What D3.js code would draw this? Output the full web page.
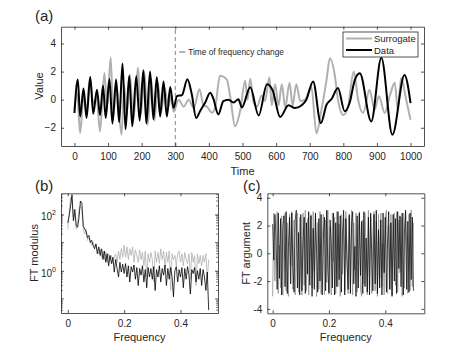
<!DOCTYPE html>
<html>
<head>
<meta charset="utf-8">
<script src="https://cdn.jsdelivr.net/npm/d3@7"></script>
<style>
body { margin: 0; background: #fff; }
svg { display: block; font-family: "Liberation Sans", Arial, Helvetica, sans-serif; }
text { fill: #262626; }
</style>
</head>
<body>
<svg id="chart"></svg>
<script>
const dataSeries = [[0,-0.95],[10,1.43],[17,-1.2],[27,0.8],[36,-1.3],[47,1.62],[56,-1.0],[67,0.71],[76,-1.1],[85,1.0],
  [93,-1.3],[104,1.48],[113,-1.7],[124,1.43],[133,-1.6],[143,2.57],[152,-2.1],[163,1.71],[172,-1.9],[184,1.67],
  [194,-1.5],[205,2.1],[214,-1.7],[225,2.0],[235,-1.4],[245,1.6],[255,-1.2],[265,1.3],[275,-1.2],[285,0.9],
  [295,-0.6],[305,0.25],[320,0.33],[336,1.45],[349,0.4],[362,-1.3],[374,-0.8],[389,-0.2],[404,0.5],[413,0.1],
  [428,-1.05],[443,-0.1],[458,0.0],[473,-0.2],[488,0.03],[498,-0.55],[523,0.88],[548,-1.12],[573,1.1],[590,0.65],
  [612,-1.24],[637,-0.4],[656,-0.6],[676,-0.4],[690,0.0],[710,1.3],[733,-1.67],[750,-0.36],[765,0.05],[784,0.83],
  [804,-0.83],[819,-0.2],[834,1.4],[849,1.88],[883,-1.55],[913,2.98],[946,-2.5],[982,1.76],[1000,-0.24]];

const surrogateSeries = [[0,-0.7],[8,0.5],[17,-2.38],[27,0.3],[36,-0.8],[46,1.57],[56,-0.3],[66,0.2],[76,-2.26],[89,1.9],
  [97,-0.5],[108,3.0],[115,-1.2],[125,1.0],[140,-2.5],[148,1.0],[156,-1.0],[165,1.8],[175,-1.5],[189,2.3],
  [198,-1.0],[208,2.0],[218,-1.8],[228,1.5],[238,-1.5],[248,1.2],[258,-0.9],[268,0.8],[280,-0.5],[287,0.3],
  [295,-0.86],[310,0.0],[325,-0.5],[340,0.0],[355,-0.6],[372,0.74],[384,-0.4],[394,-0.5],[409,-0.93],[419,-0.5],
  [433,1.7],[453,1.45],[463,0.3],[478,-1.9],[493,-0.8],[508,1.35],[515,0.0],[523,1.5],[533,-0.2],[543,-0.5],
  [557,0.3],[567,-0.1],[580,1.6],[587,-0.4],[597,1.1],[607,-0.4],[617,1.1],[627,-0.55],[640,1.2],[649,-0.4],
  [660,1.1],[672,-0.1],[686,0.0],[705,0.9],[720,-2.4],[735,-0.7],[750,1.4],[760,2.95],[775,1.67],[784,0.0],
  [800,-1.1],[814,-0.5],[831,2.0],[844,0.0],[859,-0.95],[878,0.7],[893,-0.7],[906,0.25],[923,-0.95],[938,0.25],
  [953,1.2],[962,-0.7],[972,1.55],[987,0.0],[1000,-1.43]];

const changeTime = 300;
const timeTicks = [0, 100, 200, 300, 400, 500, 600, 700, 800, 900, 1000];
const valueTicks = [-2, 0, 2, 4];

// (b) FT modulus, one value every 0.005 in frequency
const modulusStep = 0.005;
const dataModulus = [50, 90, 200, 500, 60, 150, 40, 35, 80, 300,
  250, 40, 30, 25, 15, 18, 10, 12, 8, 6,
  9, 4, 7, 3.5, 6, 2.5, 5, 2, 4, 1.5,
  3.5, 1.8, 3, 0.9, 2.5, 1.2, 0.6, 2, 0.9, 1.7,
  0.8, 1.8, 0.6, 1.5, 0.4, 1.4, 0.9, 1.6, 0.5, 1.3,
  0.3, 1.2, 0.7, 1.5, 0.4, 1.1, 0.25, 1.3, 0.6, 1.2,
  0.5, 1.4, 0.2, 1.1, 0.6, 1.5, 0.4, 1.2, 0.7, 1.6,
  0.3, 1.2, 0.5, 1.3, 0.6, 0.12, 1.0, 1.4, 0.4, 1.1,
  0.6, 1.3, 0.25, 1.2, 0.5, 1.4, 0.7, 0.15, 1.1, 0.8,
  1.3, 0.4, 1.0, 0.5, 1.2, 0.3, 1.1, 0.6, 0.2, 0.9,
  0.04];
const surrogateModulus = [30, 120, 400, 300, 80, 100, 30, 50, 150, 200,
  150, 30, 20, 30, 12, 15, 12, 8, 10, 7,
  8, 5, 4, 6, 3, 5, 2.5, 4.5, 2, 4,
  2.5, 3.5, 1.8, 3, 4, 2, 5, 2.5, 6, 3,
  8, 3, 7, 2.5, 6, 3.5, 7, 2, 5.5, 3.5,
  2, 5.5, 2.5, 4.5, 1.5, 5, 0.6, 4, 2, 4.5,
  2.5, 0.4, 5, 2, 4.5, 1.8, 6, 2.5, 5, 1.5,
  4.5, 2, 5, 0.2, 4, 2.5, 3.5, 1.5, 4, 5,
  2, 4, 1.5, 4.5, 2.5, 1.8, 4, 0.5, 4.5, 2,
  3.5, 0.3, 4, 1.8, 3.5, 1.5, 3.5, 2, 4, 0.5,
  2.5];
const freqTicks = [0, 0.2, 0.4];
const modulusLabels = [1, 100];

// (c) FT argument, one value every 0.004 in frequency
const argumentStep = 0.004;
const dataArgument = [2.1, -0.5, 2.8, 1.2, -2.6, 2.9, -1.8, 2.5, -3.0, 1.9,
  2.7, -2.4, 3.0, -2.9, 0.4, 2.6, -2.2, 2.9, -1.0, -2.8,
  2.4, 3.1, -2.5, 1.5, -3.0, 2.8, -2.7, 0.9, 2.6, -2.9,
  2.2, -1.5, 3.0, -2.3, 2.7, -3.1, 1.8, -2.6, 2.9, 0.2,
  -2.8, 2.5, -2.0, 2.8, -3.0, 1.0, 2.6, -2.7, 3.1, -1.2,
  -2.9, 2.4, 0.7, -2.5, 2.9, -3.0, 2.2, -2.4, 3.0, -1.9,
  2.7, -2.8, 1.4, 3.1, -3.0, 2.5, -0.8, -2.6, 2.8, -2.9,
  2.0, 3.0, -2.2, 0.5, -3.1, 2.7, -2.5, 2.9, -1.6, 2.3,
  -2.9, 3.0, -2.4, 1.1, -2.8, 2.6, -3.0, 2.9, -0.3, -2.7,
  2.8, -2.2, 3.1, -2.9, 1.7, -2.5, 2.4, -3.0, 2.9, -1.4,
  2.6, -2.8, 0.8, 3.0, -2.6, 2.2, -3.1, 2.8, -2.0, 2.5,
  -2.9, 3.0, -1.1, 2.7, -2.4, 2.9, -3.0, 1.6, 3.1, -2.6,
  2.3, -2.8, 2.9, -1.9, 2.6, -2.7];
const surrogateArgument = [-3.1, 2.9, -2.0, 1.5, 3.0, -2.9, 0.6, -2.5, 2.7, -3.0,
  1.3, 2.9, -2.7, 2.2, -3.1, 2.8, -0.9, 3.0, -2.6, 2.4,
  -3.0, 0.3, 2.9, -2.8, 2.6, -1.7, -3.0, 2.9, -2.3, 3.1,
  -2.7, 2.5, -3.0, 1.2, 2.8, -2.5, 3.0, -1.3, 2.7, -3.1,
  2.2, -2.6, 3.0, -2.9, 0.9, 2.8, -3.0, 2.4, -2.1, 3.1,
  -2.8, 1.9, -3.0, 2.9, -0.6, 2.6, -2.9, 3.0, -2.4, 2.1,
  -3.1, 2.8, -1.5, 2.5, -2.7, 3.0, 0.4, -2.9, 2.7, -2.3,
  3.1, -3.0, 2.2, -1.2, 2.9, -2.8, 1.6, 3.0, -2.6, -3.1,
  2.4, -2.2, 2.9, 0.1, -3.0, 3.1, -2.5, 2.6, -2.9, 1.4,
  3.0, -2.7, 2.3, -3.1, 2.8, -1.8, 2.9, -2.4, 0.7, -3.0,
  2.7, 3.1, -2.9, 2.0, -2.6, 2.8, -3.0, 1.0, 2.9, -2.3,
  3.0, -2.8, 2.4, -1.4, 2.6, -3.1, 2.9, -2.5, 3.0, 0.5,
  -2.9, 2.8, -2.7, 3.1, -2.4, 2.2];
const argumentTicks = [-4, -2, 0, 2, 4];

const axisColor = "#262626";
const grey = "#b0b0b0";

const svg = d3.select("#chart").attr("width", 469).attr("height", 352);

// draws a boxed MATLAB-like frame with inward ticks on all four sides
function frame(g, x, y, xTicks, yTicks, tickLen, xFmt, yFmt) {
    const [x0, x1] = x.range();
    const [y0, y1] = y.range();
    const bottom = g.append("g").attr("transform", `translate(0,${y0})`)
        .call(d3.axisBottom(x).tickValues(xTicks).tickSize(-tickLen).tickSizeOuter(0).tickPadding(7).tickFormat(xFmt));
    g.append("g").attr("transform", `translate(0,${y1})`)
        .call(d3.axisTop(x).tickValues(xTicks).tickSize(-tickLen).tickSizeOuter(0).tickFormat(""));
    const left = g.append("g").attr("transform", `translate(${x0},0)`)
        .call(d3.axisLeft(y).tickValues(yTicks).tickSize(-tickLen).tickSizeOuter(0).tickPadding(5).tickFormat(yFmt));
    g.append("g").attr("transform", `translate(${x1},0)`)
        .call(d3.axisRight(y).tickValues(yTicks).tickSize(-tickLen).tickSizeOuter(0).tickFormat(""));
    g.selectAll(".domain, .tick line").attr("stroke", axisColor).attr("stroke-width", 0.8);
    g.selectAll(".tick text").attr("fill", axisColor).style("font-size", "10px")
        .style("font-family", "'Liberation Sans', Arial, sans-serif");
    return { bottom, left };
}

function clip(id, x, y) {
    svg.append("clipPath").attr("id", id).append("rect")
        .attr("x", x.range()[0]).attr("y", y.range()[1])
        .attr("width", x.range()[1] - x.range()[0]).attr("height", y.range()[0] - y.range()[1]);
}

// ---------- panel (a)
const xa = d3.scaleLinear().domain([-40, 1040]).range([61, 424]);
const ya = d3.scaleLinear().domain([-3.3, 5.2]).range([146, 26.7]);
clip("clipA", xa, ya);
const ga = svg.append("g");

const lineA = d3.line().x(d => xa(d[0])).y(d => ya(d[1])).curve(d3.curveMonotoneX);
const plotA = ga.append("g").attr("clip-path", "url(#clipA)");
plotA.append("line")
    .attr("x1", xa(changeTime)).attr("x2", xa(changeTime))
    .attr("y1", ya.range()[0]).attr("y2", ya.range()[1])
    .attr("stroke", "#666").attr("stroke-width", 0.8).attr("stroke-dasharray", "4,3");
plotA.append("path").datum(surrogateSeries).attr("d", lineA)
    .attr("fill", "none").attr("stroke", grey).attr("stroke-width", 2);
plotA.append("path").datum(dataSeries).attr("d", lineA)
    .attr("fill", "none").attr("stroke", "#000").attr("stroke-width", 2);

frame(ga, xa, ya, timeTicks, valueTicks, 3, d3.format("d"), d3.format("d"));

// annotation
ga.append("line").attr("x1", xa(changeTime) + 4).attr("x2", xa(changeTime) + 10)
    .attr("y1", 52).attr("y2", 52).attr("stroke", "#444").attr("stroke-width", 0.8);
ga.append("text").attr("x", xa(changeTime) + 13).attr("y", 55)
    .style("font-size", "8.3px").text("Time of frequency change");

// legend
const leg = ga.append("g").attr("transform", "translate(343,32)");
leg.append("rect").attr("width", 75).attr("height", 25)
    .attr("fill", "#fff").attr("stroke", axisColor).attr("stroke-width", 0.8);
[["Surrogate", grey, 6.5], ["Data", "#000", 18]].forEach(([name, col, yy]) => {
    leg.append("line").attr("x1", 3).attr("x2", 29).attr("y1", yy).attr("y2", yy)
        .attr("stroke", col).attr("stroke-width", 2);
    leg.append("text").attr("x", 31).attr("y", yy + 3.5).style("font-size", "9.5px").text(name);
});

ga.append("text").attr("x", 35).attr("y", 21).style("font-size", "15px").text("(a)");
ga.append("text").attr("transform", "translate(43,86) rotate(-90)").attr("text-anchor", "middle")
    .style("font-size", "11px").text("Value");
ga.append("text").attr("x", (61 + 424) / 2).attr("y", 175).attr("text-anchor", "middle")
    .style("font-size", "11px").text("Time");

// ---------- panel (b)
const xb = d3.scaleLinear().domain([-0.024, 0.533]).range([61, 218]);
const yb = d3.scaleLog().domain([Math.pow(10, -1.5), Math.pow(10, 2.75)]).range([313, 193.3]);
clip("clipB", xb, yb);
const gb = svg.append("g");
const lineB = d3.line().x((d, i) => xb(i * modulusStep)).y(d => yb(d));
const plotB = gb.append("g").attr("clip-path", "url(#clipB)");
plotB.append("path").datum(surrogateModulus).attr("d", lineB)
    .attr("fill", "none").attr("stroke", grey).attr("stroke-width", 0.8);
plotB.append("path").datum(dataModulus).attr("d", lineB)
    .attr("fill", "none").attr("stroke", "#000").attr("stroke-width", 0.8);

const fb = frame(gb, xb, yb, freqTicks, modulusLabels, 3, d3.format(".1f"), () => "");
fb.bottom.selectAll(".tick text").text(d => d === 0 ? "0" : d3.format(".1f")(d));
// powers of ten as 10 with a superscript
fb.left.selectAll(".tick text").text(null).each(function (d) {
    const t = d3.select(this).attr("dy", "0.55em");
    t.append("tspan").text("10");
    t.append("tspan").attr("dy", "-0.75em").style("font-size", "7px").text(Math.round(Math.log10(d)));
});
// minor log ticks on both sides
const minor = [];
for (let e = -2; e <= 2; e++) for (let m = 1; m <= 9; m++) {
    const v = m * Math.pow(10, e);
    if (v >= yb.domain()[0] && v <= yb.domain()[1] && !modulusLabels.includes(v)) minor.push(v);
}
gb.selectAll("line.minor").data(minor).enter().append("line")
    .attr("x1", xb.range()[0]).attr("x2", d => xb.range()[0] + (Number.isInteger(Math.log10(d)) ? 3 : 1.8))
    .attr("y1", d => yb(d)).attr("y2", d => yb(d)).attr("stroke", axisColor).attr("stroke-width", 0.7);
gb.selectAll("line.minorR").data(minor).enter().append("line")
    .attr("x1", xb.range()[1]).attr("x2", d => xb.range()[1] - (Number.isInteger(Math.log10(d)) ? 3 : 1.8))
    .attr("y1", d => yb(d)).attr("y2", d => yb(d)).attr("stroke", axisColor).attr("stroke-width", 0.7);

gb.append("text").attr("x", 35).attr("y", 191).style("font-size", "15px").text("(b)");
gb.append("text").attr("transform", "translate(38,253) rotate(-90)").attr("text-anchor", "middle")
    .style("font-size", "11px").text("FT modulus");
gb.append("text").attr("x", (61 + 218) / 2).attr("y", 341).attr("text-anchor", "middle")
    .style("font-size", "11px").text("Frequency");

// ---------- panel (c)
const xc = d3.scaleLinear().domain([-0.019, 0.5385]).range([267.3, 424.3]);
const yc = d3.scaleLinear().domain([-4.32, 4.32]).range([313.3, 193.3]);
clip("clipC", xc, yc);
const gc = svg.append("g");
const lineC = d3.line().x((d, i) => xc(i * argumentStep)).y(d => yc(d));
const plotC = gc.append("g").attr("clip-path", "url(#clipC)");
plotC.append("path").datum(surrogateArgument).attr("d", lineC)
    .attr("fill", "none").attr("stroke", "#9a9a9a").attr("stroke-width", 0.9);
plotC.append("path").datum(dataArgument).attr("d", lineC)
    .attr("fill", "none").attr("stroke", "#000").attr("stroke-width", 0.7);

const fc = frame(gc, xc, yc, freqTicks, argumentTicks, 3, d3.format(".1f"), d3.format("d"));
fc.bottom.selectAll(".tick text").text(d => d === 0 ? "0" : d3.format(".1f")(d));
fc.left.selectAll(".tick text").text(d => d < 0 ? "-" + Math.abs(d) : d);

gc.append("text").attr("x", 243).attr("y", 191).style("font-size", "15px").text("(c)");
gc.append("text").attr("transform", "translate(249.5,253.3) rotate(-90)").attr("text-anchor", "middle")
    .style("font-size", "11px").text("FT argument");
gc.append("text").attr("x", (267.3 + 424.3) / 2).attr("y", 341).attr("text-anchor", "middle")
    .style("font-size", "11px").text("Frequency");
</script>
</body>
</html>
